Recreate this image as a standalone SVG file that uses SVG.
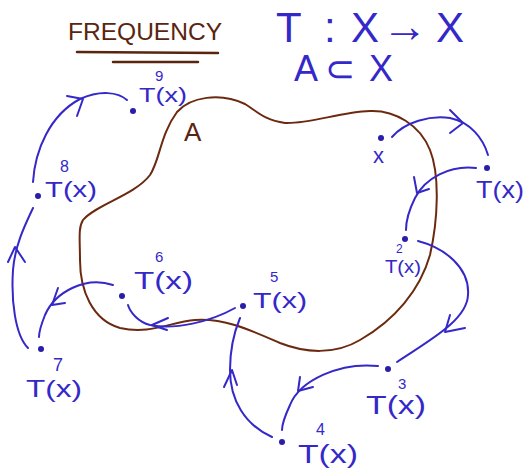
<svg xmlns="http://www.w3.org/2000/svg" width="527" height="469" viewBox="0 0 527 469">
<style>
.c{stroke:#3528c8;fill:none;stroke-width:2;stroke-linecap:round;stroke-linejoin:round}
.t{font-family:"Liberation Sans",sans-serif;fill:#3528c8}
.s{font-family:"Liberation Sans",sans-serif;fill:#3528c8}
.br{font-family:"Liberation Sans",sans-serif;fill:#5a2410}
.d{fill:#2a1ea8}
</style>
<rect width="527" height="469" fill="#ffffff"/>
<g id="title">
<text class="br" x="68" y="40" font-size="24" textLength="154" lengthAdjust="spacingAndGlyphs">FREQUENCY</text>
<path d="M77,52 L218,53 M113,62 L198,62" stroke="#5a2410" stroke-width="2.5" fill="none" stroke-linecap="round"/>
</g>
<g id="formula">
<text class="t" y="42" font-size="42"><tspan x="276">T</tspan><tspan x="324">:</tspan><tspan x="351">X</tspan><tspan x="382" font-size="46">→</tspan><tspan x="436">X</tspan></text>
<text class="t" y="81" font-size="36"><tspan x="294">A</tspan><tspan x="325">⊂</tspan><tspan x="369">X</tspan></text>
</g>
<g id="setA">
<path d="M83,220 C95,205 135,195 150,175 C160,160 160,135 177,112 C190,97 220,92 245,104 C258,112 264,120 285,123 C310,124 340,112 370,111 C395,110 420,125 430,150 C440,175 438,220 430,255 C420,290 395,320 360,340 C335,355 305,353 280,343 C250,330 225,318 195,320 C170,322 150,335 120,328 C92,320 80,290 80,260 C80,240 78,228 83,220 Z" fill="none" stroke="#6b2a10" stroke-width="2"/>
<text class="br" x="184" y="141" font-size="26">A</text>
</g>
<g id="connectors">
<path class="c" d="M392,137 C405,122 430,115 450,118 C470,122 483,138 488,155"/>
<polyline class="c" points="450,110 463,123 450,133"/>
<path class="c" d="M476,168 C450,165 425,178 415,198 C408,212 406,222 406,230"/>
<polyline class="c" points="414,177 417,193 429,189"/>
<path class="c" d="M418,241 C445,248 470,268 468,295 C467,320 430,340 397,362"/>
<polyline class="c" points="450,315 445,332 465,328"/>
<path class="c" d="M378,366 C340,362 300,380 290,405 C284,418 282,425 282,430"/>
<polyline class="c" points="300,377 298,391 313,387"/>
<path class="c" d="M272,437 C245,425 230,400 230,370 C230,345 235,330 240,318"/>
<polyline class="c" points="224,387 232,370 237,385"/>
<path class="c" d="M235,308 C210,322 175,330 150,325 C138,322 130,312 128,305"/>
<polyline class="c" points="168,318 152,325 167,330"/>
<path class="c" d="M113,285 C85,276 55,292 45,315 C41,325 39,332 39,337"/>
<polyline class="c" points="58,288 52,305 65,303"/>
<path class="c" d="M28,348 C15,335 11,300 13,270 C15,245 25,225 33,208"/>
<polyline class="c" points="8,262 15,247 25,262"/>
<path class="c" d="M33,182 C35,150 50,115 80,99 C100,90 118,92 127,100"/>
<polyline class="c" points="67,96 83,99 77,116"/>
</g>
<g id="n0"><circle class="d" cx="381" cy="138" r="3"/><text class="t" x="373" y="163" font-size="22">x</text></g>
<g id="n1"><circle class="d" cx="487" cy="168" r="3"/><text class="t" x="476" y="198" font-size="24" textLength="48" lengthAdjust="spacingAndGlyphs">T(x)</text></g>
<g id="n2"><circle class="d" cx="405" cy="239" r="3"/><text class="t" x="385" y="273" font-size="19" textLength="36" lengthAdjust="spacingAndGlyphs">T(x)</text><text class="s" x="396" y="253" font-size="12">2</text></g>
<g id="n3"><circle class="d" cx="388" cy="369" r="3"/><text class="t" x="366" y="414" font-size="25" textLength="60" lengthAdjust="spacingAndGlyphs">T(x)</text><text class="s" x="398" y="389" font-size="15">3</text></g>
<g id="n4"><circle class="d" cx="282" cy="442" r="3"/><text class="t" x="298" y="463" font-size="26" textLength="60" lengthAdjust="spacingAndGlyphs">T(x)</text><text class="s" x="316" y="435" font-size="16">4</text></g>
<g id="n5"><circle class="d" cx="243" cy="306" r="3"/><text class="t" x="253" y="308" font-size="22" textLength="54" lengthAdjust="spacingAndGlyphs">T(x)</text><text class="s" x="270" y="282" font-size="15">5</text></g>
<g id="n6"><circle class="d" cx="122" cy="296" r="3"/><text class="t" x="134" y="289" font-size="23" textLength="59" lengthAdjust="spacingAndGlyphs">T(x)</text><text class="s" x="155" y="262" font-size="15">6</text></g>
<g id="n7"><circle class="d" cx="41" cy="349" r="3"/><text class="t" x="26" y="397" font-size="24" textLength="56" lengthAdjust="spacingAndGlyphs">T(x)</text><text class="s" x="53" y="371" font-size="18">7</text></g>
<g id="n8"><circle class="d" cx="38" cy="196" r="3"/><text class="t" x="45" y="197" font-size="22" textLength="52" lengthAdjust="spacingAndGlyphs">T(x)</text><text class="s" x="60" y="172" font-size="16">8</text></g>
<g id="n9"><circle class="d" cx="133" cy="111" r="3"/><text class="t" x="139" y="102" font-size="21" textLength="48" lengthAdjust="spacingAndGlyphs">T(x)</text><text class="s" x="155" y="81" font-size="15">9</text></g>
</svg>
